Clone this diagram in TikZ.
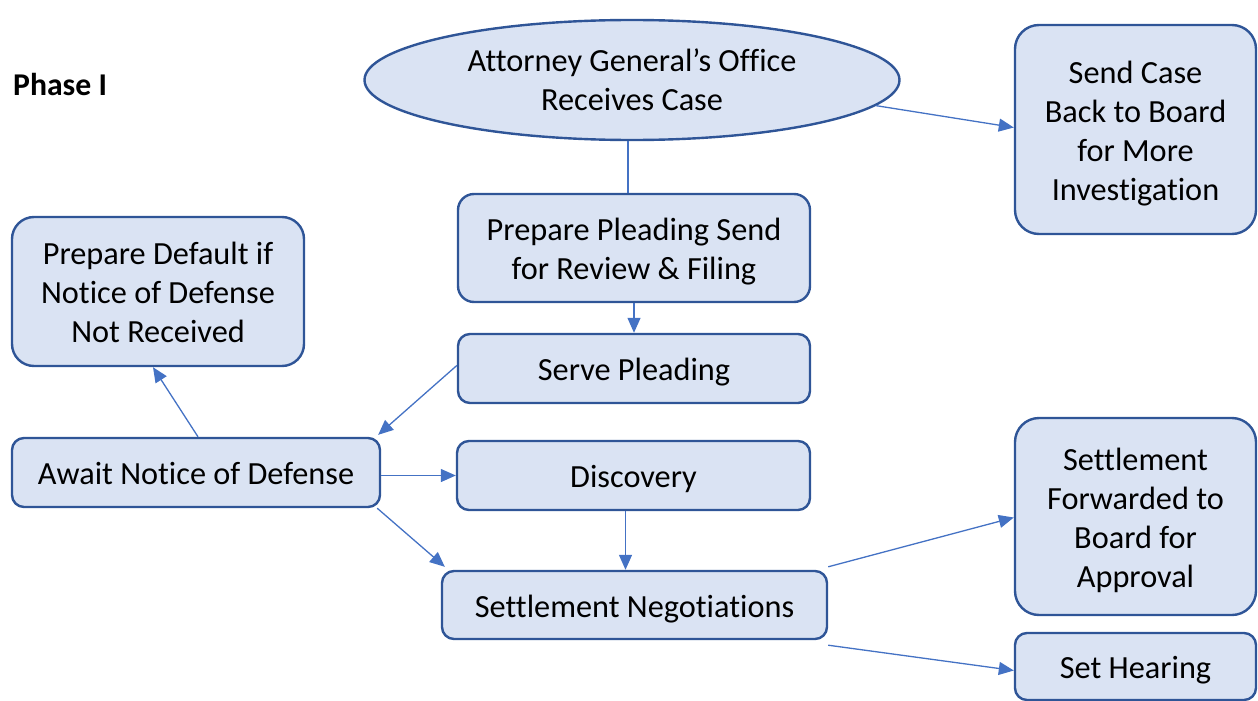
\documentclass[tikz,border=0pt]{standalone}
\usepackage{fontspec}
\setmainfont[Ligatures=NoCommon]{Carlito}
\usetikzlibrary{shapes.geometric,arrows.meta}
\definecolor{boxfill}{HTML}{DAE3F3}
\definecolor{boxdraw}{HTML}{2F5597}
\definecolor{linkcol}{HTML}{4472C4}
\newcommand{\bxt}[1]{\raisebox{-4.5pt}[\height][\depth]{\begin{tabular}{@{}c@{}}#1\end{tabular}}}
\tikzset{
  flowbox/.style={draw=boxdraw, fill=boxfill, line width=2.4pt, rounded corners=16pt,
    inner sep=0pt, align=center, font=\fontsize{32.3}{39}\selectfont},
  ovalbox/.style={ellipse, draw=boxdraw, fill=boxfill, line width=2.4pt,
    inner sep=0pt, align=center, font=\fontsize{32.3}{39}\selectfont},
  link/.style={draw=linkcol, line width=1.3pt, -{Triangle[length=15pt,width=13pt]}},
  plainlink/.style={draw=linkcol, line width=1.3pt},
}
\begin{document}
\begin{tikzpicture}[x=1pt,y=-1pt]
\useasboundingbox (0,0) rectangle (1258,701);
\begin{scope}
\clip (0,0) rectangle (1258,701);
\node[anchor=west, inner sep=0pt, font=\fontsize{31.7}{39}\selectfont\bfseries] (ph) at (13,84) {Phase I};
\node[ovalbox, minimum width=535pt, minimum height=120pt] (ell) at (632,80) {Attorney General’s Office\\Receives Case};
\node[flowbox, minimum width=241pt, minimum height=209pt, rounded corners=24pt] (send) at (1135.5,129.5) {\bxt{Send Case\\Back to Board\\for More\\Investigation}};
\node[flowbox, minimum width=352pt, minimum height=108pt] (pp) at (634,248) {\bxt{Prepare Pleading Send\\for Review \& Filing}};
\node[flowbox, minimum width=352pt, minimum height=69pt, rounded corners=12pt] (sp) at (634,368.5) {\bxt{Serve Pleading}};
\node[flowbox, minimum width=292pt, minimum height=149pt, rounded corners=22pt] (pd) at (158,291.5) {\bxt{Prepare Default if\\Notice of Defense\\Not Received}};
\node[flowbox, minimum width=368pt, minimum height=69pt, rounded corners=12pt] (aw) at (196,472.5) {\bxt{Await Notice of Defense}};
\node[flowbox, minimum width=353pt, minimum height=69pt, rounded corners=12pt] (dis) at (633.5,475.5) {\bxt{Discovery}};
\node[flowbox, minimum width=385pt, minimum height=68pt, rounded corners=12pt] (sn) at (634.5,605) {\bxt{Settlement Negotiations}};
\node[flowbox, minimum width=241pt, minimum height=197pt, rounded corners=24pt] (sf) at (1135.5,516.5) {\bxt{Settlement\\Forwarded to\\Board for\\Approval}};
\node[flowbox, minimum width=241pt, minimum height=67pt, rounded corners=12pt] (sh) at (1135.5,666.5) {\bxt{Set Hearing}};
\coordinate (offb) at (996,704);

\draw[plainlink] ([xshift=-4pt]ell.south) -- ([xshift=-4pt]ell.south |- pp.north);
\draw[link] (ell.-6) -- ([yshift=2pt]send.west);
\draw[link] (pp.south) -- (sp.north);
\draw[link] ([yshift=3pt]sp.west) -- ([shift={(-3pt,2pt)}]aw.north east);
\draw[link] ([xshift=2pt]aw.north) -- ([xshift=-5pt]pd.south);
\draw[link] ([yshift=-3pt]aw.east) -- ([yshift=-3pt]aw.east -| dis.west);
\draw[link] ([xshift=-4pt]aw.south east) -- ([shift={(4pt,3pt)}]sn.north west);
\draw[link] ([xshift=-8pt]dis.south) -- ([xshift=-8pt]dis.south |- sn.north);
\draw[link] ([yshift=3pt]sn.north east) -- ([yshift=-1pt]sf.west);
\draw[link] ([yshift=-5pt]sn.south east) -- ([yshift=-4pt]sh.west);
\draw[plainlink] (offb) -- ([shift={(3pt,-5pt)}]sh.south west);
\end{scope}
\end{tikzpicture}
\end{document}
